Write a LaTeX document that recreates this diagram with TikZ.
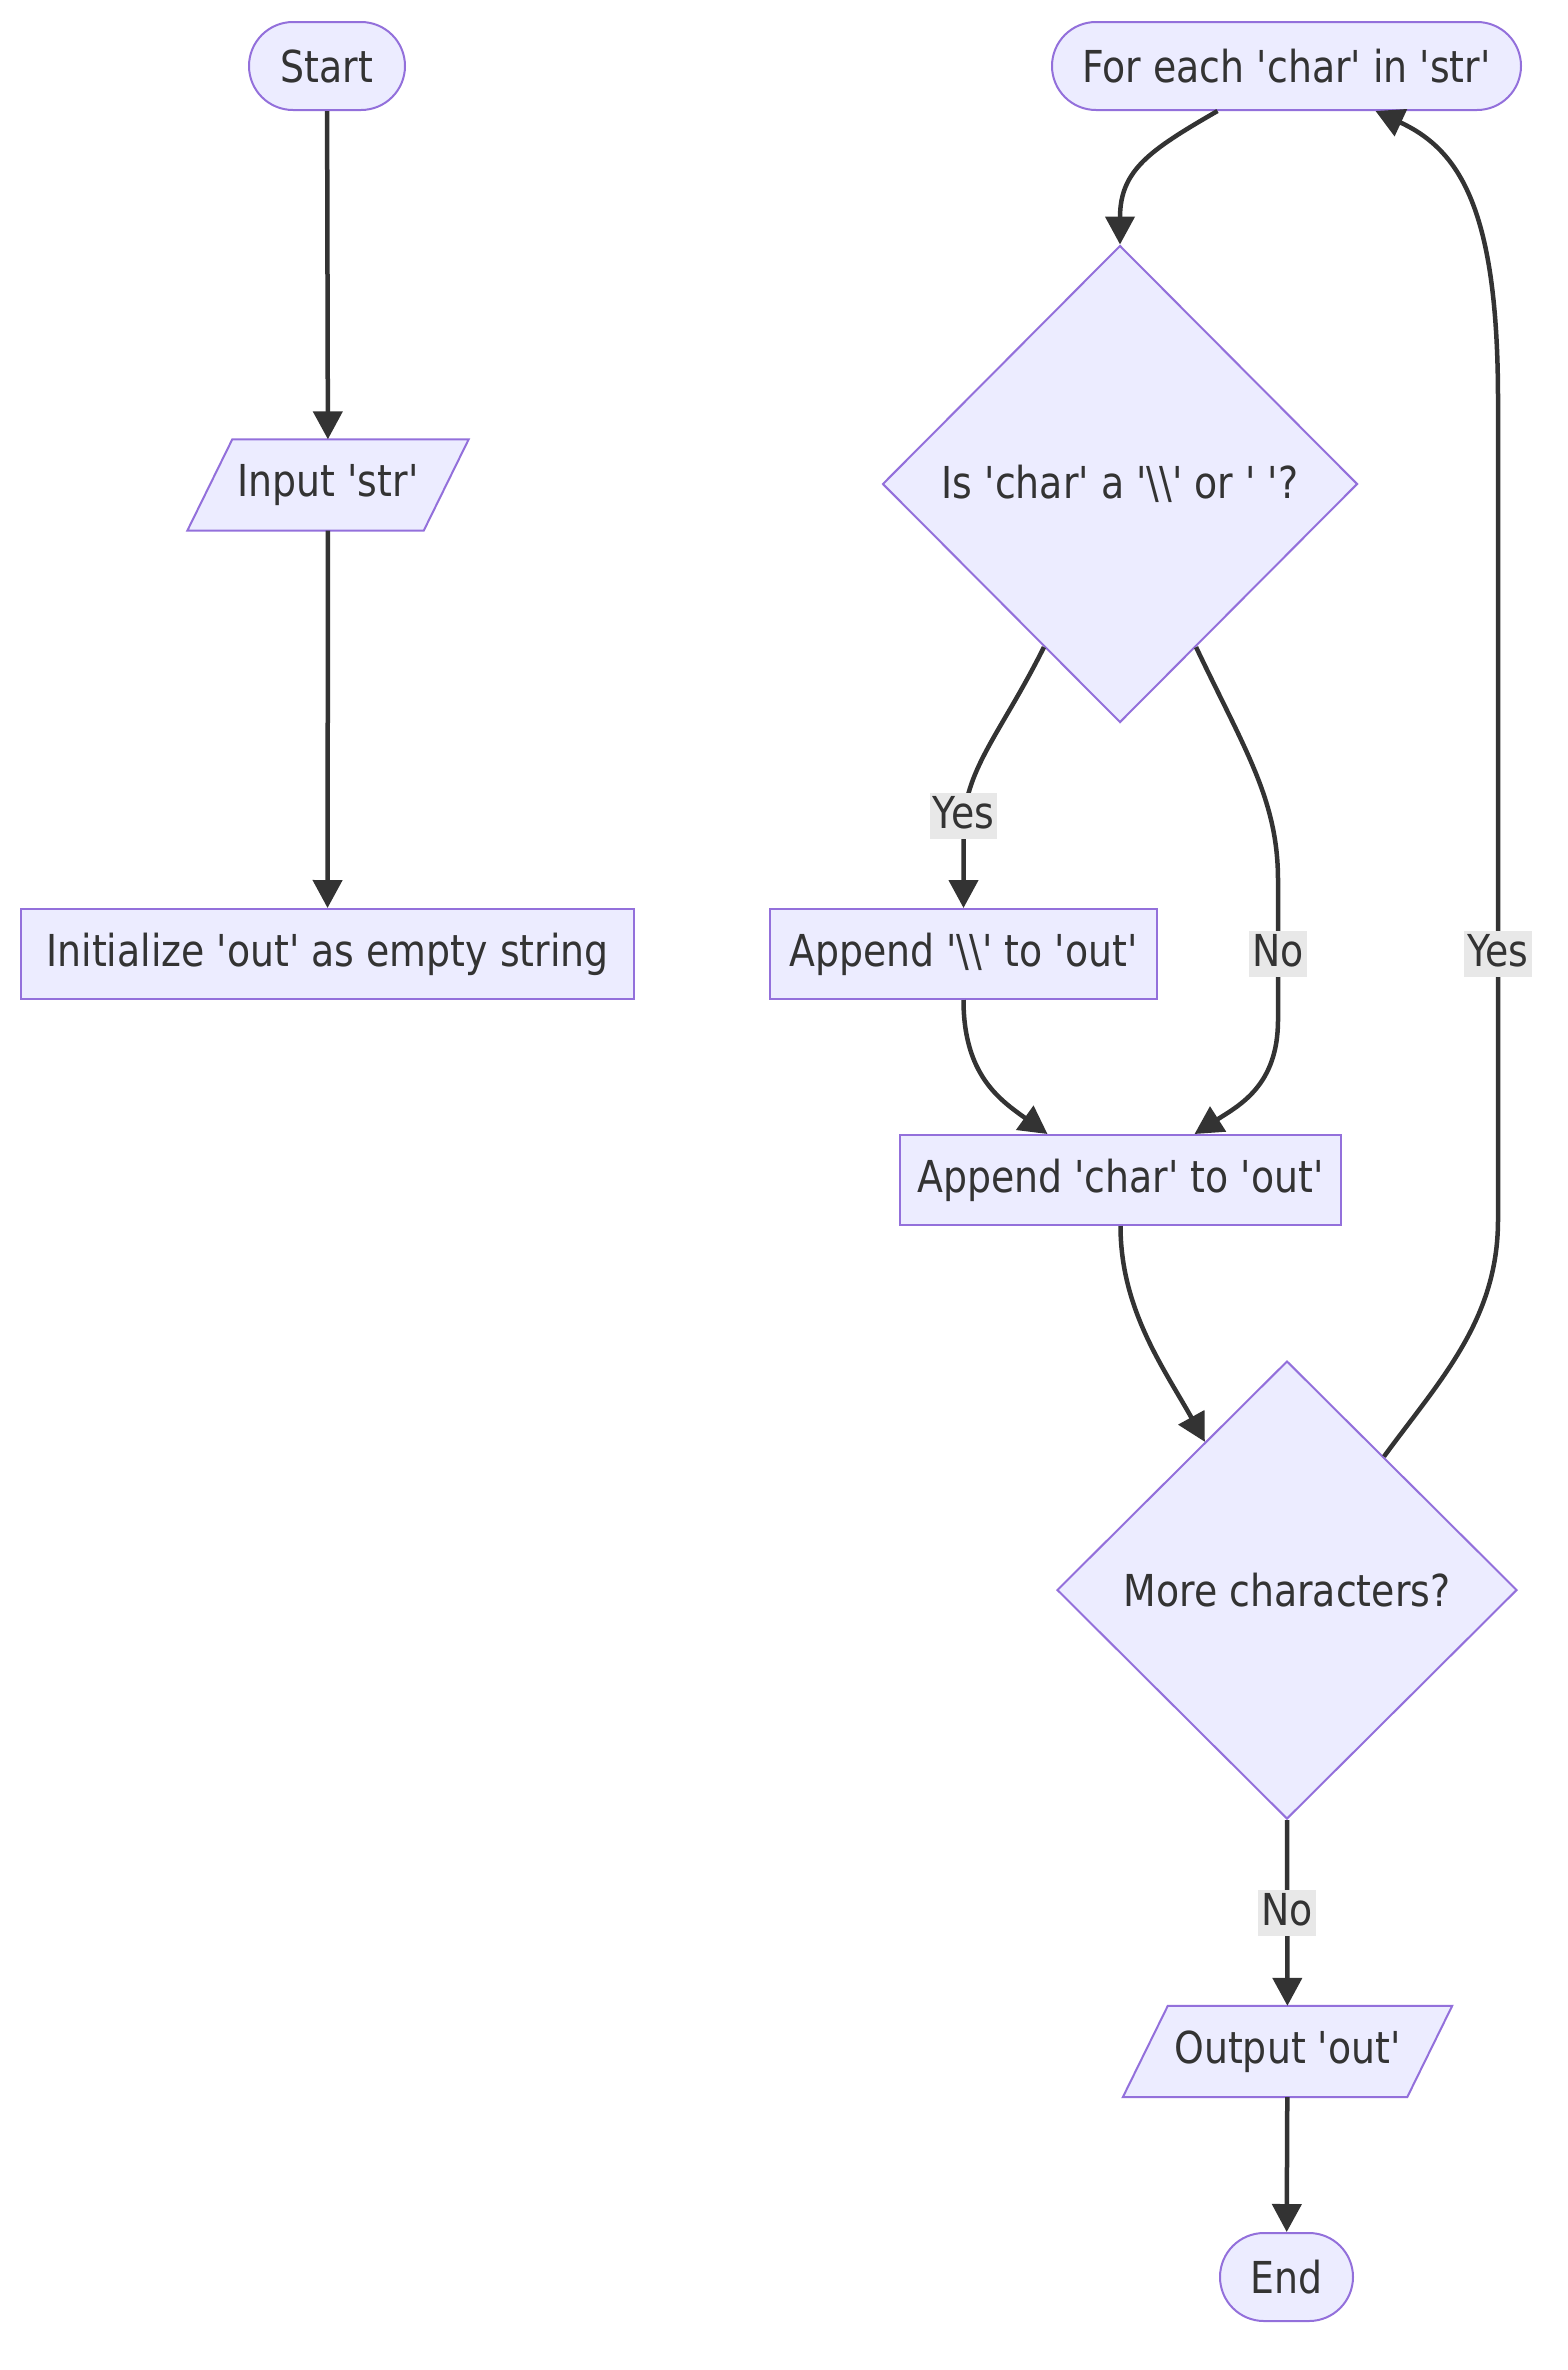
\documentclass[tikz,border=0pt]{standalone}
\usepackage{fontspec}
\setmainfont{DejaVu Sans}[FakeStretch=0.86,Ligatures=TeXOff]
\usetikzlibrary{shapes.geometric,arrows.meta,backgrounds}
\definecolor{nodefill}{HTML}{ECECFF}
\definecolor{nodeline}{HTML}{9370DB}
\definecolor{edgecol}{HTML}{333333}
\definecolor{txtcol}{HTML}{333333}
\definecolor{lblbg}{HTML}{E8E8E8}
\begin{document}
\begin{tikzpicture}[x=1pt,y=-1pt,
  every node/.style={text=txtcol,font=\fontsize{44}{52}\selectfont},
  base/.style={fill=nodefill,draw=nodeline,line width=2pt,inner sep=0pt},
  term/.style={base,rectangle,rounded corners=44pt,minimum height=88pt},
  procbox/.style={base,rectangle,minimum height=90pt},
  decision/.style={base,diamond,aspect=1},
  iobox/.style={rectangle,inner sep=0pt,minimum height=91pt},
  ioshape/.style={fill=nodefill,draw=nodeline,line width=2pt,line join=miter},
  flow/.style={draw=edgecol,line width=4.5pt,-{Triangle[length=28pt,width=29pt]}},
  lbl/.style={fill=lblbg,inner sep=3pt,text height=32pt,text depth=8pt}
]
\useasboundingbox (0,0) rectangle (1568,2370);

% left column
\node[term,minimum width=156pt] (start) at (327,66) {Start};
\node[iobox,minimum width=236pt] (inp) at (328,485) {Input 'str'};
\node[procbox,minimum width=613pt] (init) at (327.5,954) {Initialize 'out' as empty string};

% right column
\node[term,minimum width=469pt] (each) at (1286.5,66) {For each 'char' in 'str'};
\node[decision,minimum width=475pt,minimum height=477pt] (isesc) at (1120,484) {Is 'char' a '\textbackslash\textbackslash' or ' '?};
\node[procbox,minimum width=387pt] (addbs) at (963.5,954) {Append '\textbackslash\textbackslash' to 'out'};
\node[procbox,minimum width=441pt] (addch) at (1120.5,1180) {Append 'char' to 'out'};
\node[decision,minimum width=460pt,minimum height=458pt] (more) at (1287,1590) {More characters?};
\node[iobox,minimum width=284pt] (outp) at (1287.5,2051.5) {Output 'out'};
\node[term,minimum width=133pt] (stop) at (1286.5,2277) {End};

% parallelogram outlines for the input/output steps
\begin{scope}[on background layer]
  \foreach \n in {inp,outp}{
    \draw[ioshape] ([xshift=-22.5pt]\n.south west) -- ([xshift=-22.5pt]\n.south east)
      -- ([xshift=22.5pt]\n.north east) -- ([xshift=22.5pt]\n.north west) -- cycle;
  }
\end{scope}

% connectors
\draw[flow] (start) -- (inp);
\draw[flow] (inp) -- (init);
\draw[flow] ([xshift=-69pt]each.south) .. controls (1150,150) and (1120,170) .. (isesc.north);
\draw[flow] (isesc.-115) .. controls (1000,735) and (963.5,770) .. (963.5,830) -- (addbs.north);
\draw[flow] (isesc.-65) .. controls (1245,750) and (1278,800) .. (1278,880) -- (1278,1020)
  .. controls (1278,1085) and (1240,1105) .. ([xshift=74pt]addch.north);
\draw[flow] (addbs.south) .. controls (963.5,1075) and (1000,1100) .. ([xshift=-73pt]addch.north);
\draw[flow] (addch.south) .. controls (1120.5,1310) and (1165,1370) .. (more.119.5);
\draw[flow] (more.54) .. controls (1440,1380) and (1498,1320) .. (1498,1220) -- (1498,400)
  .. controls (1498,210) and (1460,150) .. ([xshift=89pt]each.south);
\draw[flow] (more.south) -- (outp);
\draw[flow] (outp) -- (stop);

% branch labels
\node[lbl] (yesA) at (963.5,816) {Yes};
\node[lbl] (noA) at (1278,954) {No};
\node[lbl] (yesB) at (1498,954) {Yes};
\node[lbl] (noB) at (1287,1913) {No};
\end{tikzpicture}
\end{document}
